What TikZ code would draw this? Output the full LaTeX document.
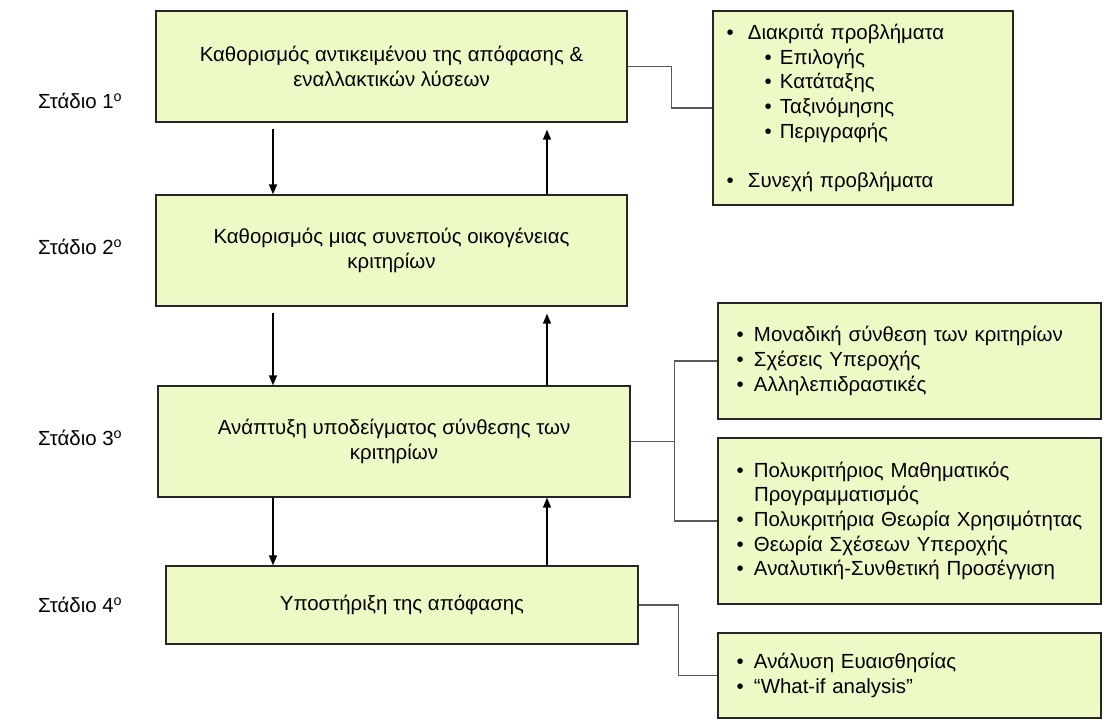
\documentclass[tikz,border=0pt]{standalone}
\usepackage{fontspec}
\setmainfont{Liberation Sans}
\usepackage{tikz}
\usetikzlibrary{positioning,calc,arrows.meta}
\definecolor{boxfill}{HTML}{EEFAC6}
\definecolor{linkgray}{HTML}{5A5A5A}
\tikzstyle{stagebox}=[draw=black!85, fill=boxfill, line width=1.3bp, align=center, inner sep=0pt]
\tikzstyle{notebox}=[draw=black!85, fill=boxfill, line width=1.3bp, align=left, inner ysep=0pt]
\tikzstyle{arrow}=[draw, line width=1.4bp, -{Triangle[length=10bp,width=8bp]}]
\tikzstyle{link}=[draw=linkgray, line width=1.3bp]
\tikzstyle{stage}=[anchor=west, inner sep=0pt]
\newcommand{\itm}[2][17.5bp]{\mbox{\makebox[#1][l]{\textbullet}#2}}
\newcommand{\subitm}[1]{\mbox{\hspace*{38bp}\makebox[15.5bp][l]{\textbullet}#1}}

\begin{document}
\begin{tikzpicture}[x=1bp, y=-1bp, font=\fontsize{20.5}{24.8}\selectfont]

    \useasboundingbox (0,0) rectangle (1106,720);

    % Stage labels
    \foreach \n/\y in {1/101,2/247,3/438,4/605} {
        \node[stage] (s\n) at (38,\y) {Στάδιο \n\textsuperscript{ο}};
    }

    % Main stages
    \node[stagebox, minimum width=471bp, minimum height=111bp] (b1) at (391.5,66.5)
        {Καθορισμός αντικειμένου της απόφασης \&\\ εναλλακτικών λύσεων};
    \node[stagebox, minimum width=471bp, minimum height=111bp] (b2) at (391.5,250.5)
        {Καθορισμός μιας συνεπούς οικογένειας\\ κριτηρίων};
    \node[stagebox, minimum width=472bp, minimum height=111bp] (b3) at (394,441.5)
        {Ανάπτυξη υποδείγματος σύνθεσης των\\ κριτηρίων};
    \node[stagebox, minimum width=472bp, minimum height=78bp] (b4) at (402,605)
        {Υποστήριξη της απόφασης};

    % Notes on the right
    \node[notebox, minimum width=300bp, minimum height=194bp, inner xsep=13.5bp, text width=273bp] (nA) at (863,108)
        {\itm[21.5bp]{Διακριτά προβλήματα}\\
         \subitm{Επιλογής}\\
         \subitm{Κατάταξης}\\
         \subitm{Ταξινόμησης}\\
         \subitm{Περιγραφής}\\[24.8bp]
         \itm[21.5bp]{Συνεχή προβλήματα}};
    \node[notebox, minimum width=383bp, minimum height=116bp, inner xsep=18.5bp, text width=346bp] (nB) at (909.5,361)
        {\itm{Μοναδική σύνθεση των κριτηρίων}\\
         \itm{Σχέσεις Υπεροχής}\\
         \itm{Αλληλεπιδραστικές}};
    \node[notebox, minimum width=383bp, minimum height=166bp, inner xsep=18.5bp, text width=346bp] (nC) at (909.5,521)
        {\itm{Πολυκριτήριος Μαθηματικός}\\
         \hspace*{17.5bp}Προγραμματισμός\\
         \itm{Πολυκριτήρια Θεωρία Χρησιμότητας}\\
         \itm{Θεωρία Σχέσεων Υπεροχής}\\
         \itm{Αναλυτική-Συνθετική Προσέγγιση}};
    \node[notebox, minimum width=383bp, minimum height=85bp, inner xsep=18.5bp, text width=346bp] (nD) at (909.5,675.5)
        {\itm{Ανάλυση Ευαισθησίας}\\
         \itm{“What-if analysis”}};

    % Arrows between stages
    \coordinate (dx) at (273,0);
    \coordinate (ux) at (547,0);
    \draw[arrow] ([yshift=-6bp]b1.south -| dx) -- (b2.north -| dx);
    \draw[arrow] (b2.north -| ux) -- ([yshift=-7bp]b1.south -| ux);
    \draw[arrow] ([yshift=-6bp]b2.south -| dx) -- (b3.north -| dx);
    \draw[arrow] (b3.north -| ux) -- ([yshift=-7bp]b2.south -| ux);
    \draw[arrow] (b3.south -| dx) -- (b4.north -| dx);
    \draw[arrow] (b4.north -| ux) -- (b3.south -| ux);

    % Links to the notes
    \draw[link] (b1.east) -- ++(44,0) |- (nA.west);
    \draw[link] (b3.east) -- ++(44,0) coordinate (j3);
    \draw[link] (nB.west) -| (j3) |- (nC.west);
    \draw[link] (b4.east) -- ++(40,0) |- (nD.west);

\end{tikzpicture}
\end{document}
